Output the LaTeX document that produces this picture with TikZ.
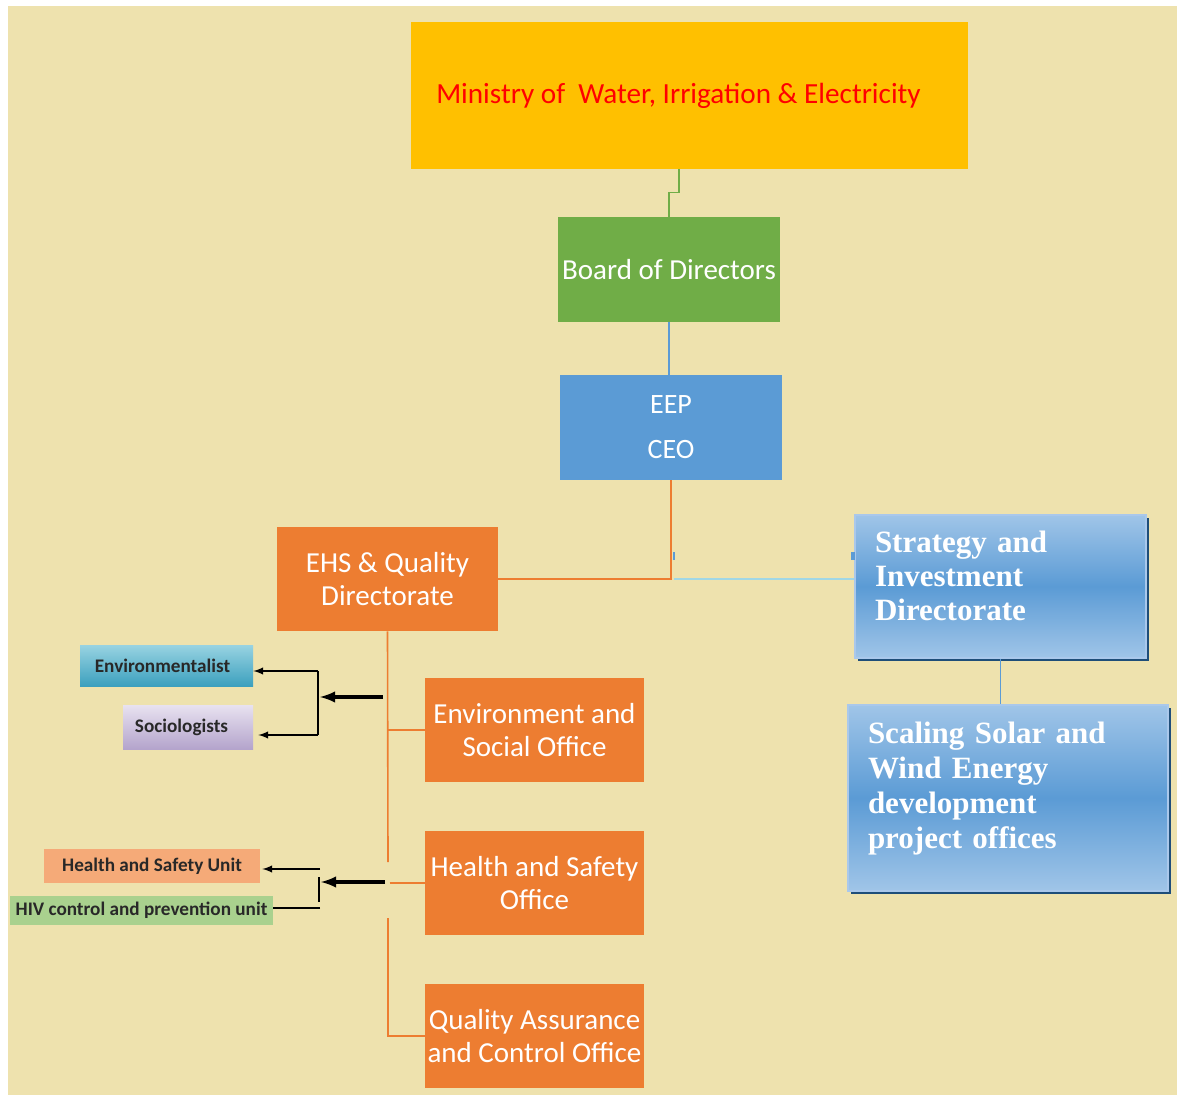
\documentclass[tikz,border=0pt]{standalone}
\usepackage{fontspec}
\setmainfont{Carlito}
\newfontfamily\cambria{Liberation Serif}
\usetikzlibrary{shadows}

\definecolor{bgyellow}{RGB}{238,226,174}
\definecolor{ministry}{RGB}{255,192,0}
\definecolor{boardgreen}{RGB}{112,173,71}
\definecolor{eepblue}{RGB}{91,155,213}
\definecolor{orangebox}{RGB}{237,125,49}
\definecolor{bluelight}{RGB}{160,197,232}
\definecolor{bluerim}{RGB}{170,200,235}
\definecolor{blueshade}{RGB}{31,78,121}
\definecolor{cyanline}{RGB}{160,215,230}
\definecolor{cyanlight}{RGB}{150,210,225}
\definecolor{cyandark}{RGB}{60,160,190}
\definecolor{lilaclight}{RGB}{232,226,240}
\definecolor{lilacdark}{RGB}{180,164,204}
\definecolor{peach}{RGB}{245,170,120}
\definecolor{leaf}{RGB}{169,209,142}
\definecolor{tagtext}{RGB}{40,40,40}

\tikzset{
  unit/.style={rectangle, inner sep=0pt, text=white, align=center,
    font=\fontsize{14.5}{16.5}\selectfont},
  office/.style={unit, fill=orangebox, minimum width=109.5pt, minimum height=52pt},
  bluebox/.style={rectangle, draw=bluerim, line width=0.6pt,
    top color=bluelight, bottom color=bluelight, middle color=eepblue,
    text=white, align=left, inner xsep=10pt, inner ysep=0pt,
    font=\cambria\bfseries\fontsize{15.5}{17}\selectfont,
    general shadow={fill=blueshade, shadow xshift=1.5pt, shadow yshift=-1.5pt}},
  tag/.style={rectangle, inner sep=0pt, text=tagtext,
    font=\bfseries\fontsize{9.6}{11}\selectfont},
  orgline/.style={line width=0.8pt},
  arm/.style={->, line width=0.7pt},
  thickarm/.style={->, line width=1.6pt}
}

\begin{document}
\begin{tikzpicture}[>=latex, x=0.5pt, y=-0.5pt]
  \useasboundingbox (0,0) rectangle (1177,1095);
  \fill[white] (0,0) rectangle (1177,1095);
  \fill[bgyellow] (8,6) rectangle (1177,1095);

  % Top of the hierarchy
  \node[unit, fill=ministry, text=red, minimum width=278.5pt, minimum height=73.5pt, font=\fontsize{14.6}{17}\selectfont] (min) at (689.5,95.5) {Ministry of\ \ Water, Irrigation \& Electricity\hspace*{11pt}};
  \node[unit, fill=boardgreen, minimum width=111pt, minimum height=52.5pt] (board) at (669,269.5) {Board of Directors};
  \node[unit, fill=eepblue, minimum width=111pt, minimum height=52.5pt, font=\fontsize{14}{22.5}\selectfont] (eep) at (671,427.5) {EEP\\CEO};

  % Directorates
  \node[office, minimum width=110.5pt] (ehs) at (387.5,579) {EHS \& Quality\\Directorate};
  \node[bluebox, text width=125.5pt, minimum height=71.5pt, text depth=45pt] (strat) at (1000.5,586.5) {Strategy and\\Investment\\Directorate};
  \node[bluebox, text width=140pt, minimum height=93pt, text depth=65pt, font=\cambria\bfseries\fontsize{15.5}{17.5}\selectfont] (scal) at (1008,798) {Scaling Solar and\\Wind Energy\\development\\project offices};

  % Offices
  \node[office] (envoff) at (534.5,730) {Environment and\\Social Office};
  \node[office] (hsoff) at (534.5,883) {Health and Safety\\Office};
  \node[office] (qaoff) at (534.5,1036) {Quality Assurance\\and Control Office};

  % Units
  \node[tag, top color=cyanlight, bottom color=cyandark, minimum width=86.5pt, minimum height=20pt] (envl) at (166.5,666) {Environmentalist\hspace*{4pt}};
  \node[tag, top color=lilaclight, bottom color=lilacdark, minimum width=65pt, minimum height=22pt] (socl) at (188,727) {Sociologists\hspace*{6.5pt}};
  \node[tag, fill=peach, minimum width=108pt, minimum height=17pt] (hsu) at (152,866) {Health and Safety Unit};
  \node[tag, fill=leaf, minimum width=131.5pt, minimum height=14.5pt] (hiv) at (141.5,910.5) {HIV control and prevention unit};

  % Chain of command
  \draw[orgline, boardgreen] ([xshift=-5.25pt]min.south) -- ++(0,23) -| (board.north);
  \draw[orgline, eepblue] (board.south) -- (board.south |- eep.north);
  \draw[orgline, orangebox] (eep.south) |- (ehs.east);
  \draw[orgline, cyanline] ([xshift=1.5pt]eep.south |- ehs.east) -- (strat.west |- ehs.east);
  \draw[orgline, eepblue] (strat.south) -- (strat.south |- scal.north);
  \fill[eepblue] (673,552) rectangle (675,560);
  \fill[eepblue] (851,552) rectangle (855,560);

  % EHS offices
  \coordinate (gapt) at (388,862);
  \coordinate (gapb) at (388,918);
  \draw[orgline, orangebox] (ehs.south) -- (gapt);
  \draw[orgline, orangebox] (ehs.south |- envoff.west) -- (envoff.west);
  \draw[orgline, orangebox] ([xshift=1pt]ehs.south |- hsoff.west) -- (hsoff.west);
  \draw[orgline, orangebox] (gapb) |- (qaoff.west);

  % Environment and social units
  \coordinate (envtap) at (383,697);
  \coordinate (envfork) at (320,697);
  \coordinate (envtop) at (318,671);
  \coordinate (envbot) at (318,735);
  \draw[thickarm] (envtap) -- (envfork);
  \draw[line width=0.7pt] (envtop) -- (envbot);
  \draw[arm] (envtop) -- (envtop -| envl.east);
  \draw[arm] (envbot) -- ([xshift=2.5pt]envbot -| socl.east);

  % Health and safety units
  \coordinate (hstap) at (385,882);
  \coordinate (hsfork) at (321,882);
  \coordinate (hstop) at (319,877);
  \coordinate (hsbot) at (319,902);
  \coordinate (hsuend) at (320,869);
  \coordinate (hivend) at (320,908);
  \draw[thickarm] (hstap) -- (hsfork);
  \draw[line width=0.7pt] (hstop) -- (hsbot);
  \draw[arm] (hsuend) -- ([xshift=1pt]hsuend -| hsu.east);
  \draw[line width=0.7pt] (hivend) -- (hivend -| hiv.east);
\end{tikzpicture}
\end{document}
